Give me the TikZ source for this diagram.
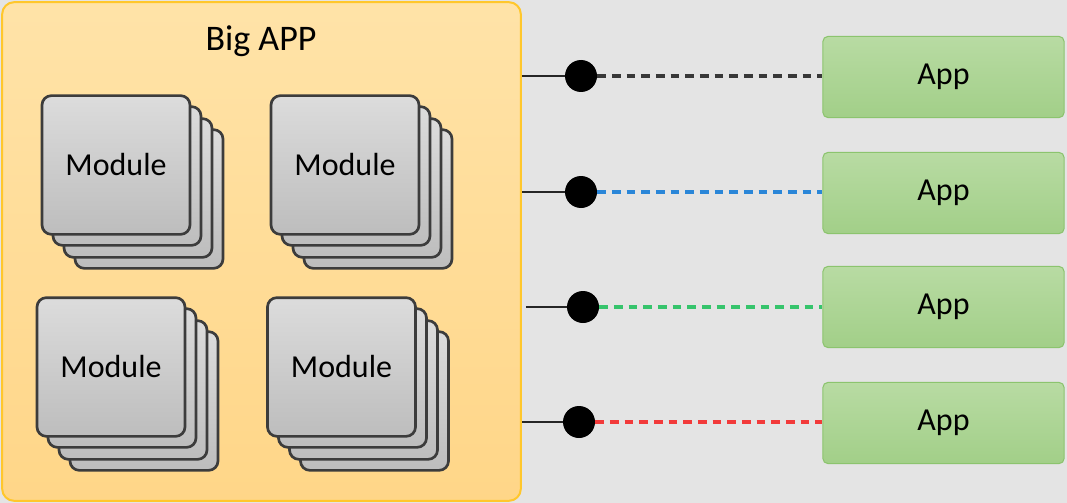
\documentclass[tikz,border=0pt]{standalone}
\usepackage{fontspec}
\setmainfont{Carlito}
\definecolor{bggray}{HTML}{E4E4E4}
\definecolor{bigborder}{HTML}{FFC72C}
\definecolor{bigtop}{HTML}{FFE3A8}
\definecolor{bigbot}{HTML}{FFD688}
\definecolor{modtop}{HTML}{DCDCDC}
\definecolor{modbot}{HTML}{BDBDBD}
\definecolor{modborder}{HTML}{3C3C3C}
\definecolor{apptop}{HTML}{B8DBA3}
\definecolor{appbot}{HTML}{A2CF88}
\definecolor{appborder}{HTML}{8CC46E}
\definecolor{dashdark}{HTML}{383838}
\definecolor{dashblue}{HTML}{2A86D8}
\definecolor{dashgreen}{HTML}{36C46C}
\definecolor{dashred}{HTML}{F23A3A}
\begin{document}
\begin{tikzpicture}[x=0.75pt,y=-0.75pt,
  bigbox/.style={rectangle, rounded corners=9pt, draw=bigborder, line width=1.5pt,
    top color=bigtop, bottom color=bigbot, minimum width=389pt, minimum height=374pt, inner sep=0pt},
  modbox/.style={rectangle, rounded corners=7pt, draw=modborder, line width=2pt,
    top color=modtop, bottom color=modbot, minimum width=111pt, minimum height=104pt, inner sep=0pt,
    font=\fontsize{24}{28}\selectfont},
  appbox/.style={rectangle, rounded corners=4pt, draw=appborder, line width=0.8pt,
    top color=apptop, bottom color=appbot, minimum width=181pt, minimum height=61pt, inner sep=0pt,
    font=\fontsize{24}{28}\selectfont},
  dot/.style={circle, fill=black, minimum size=24pt, inner sep=0pt},
  solidlink/.style={draw=black!85, line width=1.5pt},
  dashlink/.style={line width=2.4pt, dash pattern=on 6.5pt off 4.5pt}
]
\useasboundingbox (0,0) rectangle (1067,503);
\fill[bggray] (0,0) rectangle (1067,503);

% Big APP container
\node[bigbox] (big) at (261.5,251.5) {};
\node[font=\fontsize{27}{32}\selectfont] (title) at (261,41) {Big APP};

% Module stacks
\foreach \n/\cx/\cy in {tl/116/165, tr/345/165, bl/111/367, br/341.5/367}{
  \node[modbox] (\n3) at (\cx+33,\cy+34) {};
  \node[modbox] (\n2) at (\cx+22,\cy+23) {};
  \node[modbox] (\n1) at (\cx+11,\cy+11) {};
  \node[modbox] (\n0) at (\cx,\cy) {Module};
}

% Apps
\node[appbox] (app1) at (943.5,77) {App};
\node[appbox] (app2) at (943.5,193) {App};
\node[appbox] (app3) at (943.5,307) {App};
\node[appbox] (app4) at (943.5,423) {App};

% Connector dots
\node[dot] (d1) at (581,76) {};
\node[dot] (d2) at (581,192) {};
\node[dot] (d3) at (583,307) {};
\node[dot] (d4) at (579,422) {};

\coordinate (s1) at (big.east |- d1);
\coordinate (s2) at (big.east |- d2);
\coordinate (s3) at ([xshift=3]big.east |- d3);
\coordinate (s4) at (big.east |- d4);
\foreach \i in {1,2,3,4}{ \draw[solidlink] (s\i) -- (d\i); }

\draw[dashlink, draw=dashdark] (d1.east) -- (d1 -| app1.west);
\draw[dashlink, draw=dashblue] (d2.east) -- (d2 -| app2.west);
\draw[dashlink, draw=dashgreen] (d3.east) -- (d3 -| app3.west);
\draw[dashlink, draw=dashred] (d4.east) -- (d4 -| app4.west);
\end{tikzpicture}
\end{document}
